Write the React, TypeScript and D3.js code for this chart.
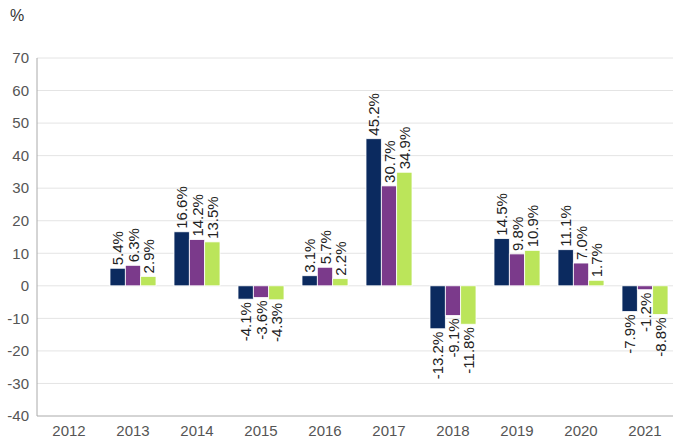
import React from "react";
import * as d3 from "d3";

const years = ["2012", "2013", "2014", "2015", "2016", "2017", "2018", "2019", "2020", "2021"];
const seriesA: (number | null)[] = [null, 5.4, 16.6, -4.1, 3.1, 45.2, -13.2, 14.5, 11.1, -7.9];
const seriesB: (number | null)[] = [null, 6.3, 14.2, -3.6, 5.7, 30.7, -9.1, 9.8, 7.0, -1.2];
const seriesC: (number | null)[] = [null, 2.9, 13.5, -4.3, 2.2, 34.9, -11.8, 10.9, 1.7, -8.8];
const yTicks = [70, 60, 50, 40, 30, 20, 10, 0, -10, -20, -30, -40];
const colors = ["#0b2a5f", "#7b3a8b", "#bbe55a"];

export default function App() {
  const W = 673, H = 439;
  const left = 37, right = 677, top = 58, bottom = 416;
  const y = d3.scaleLinear().domain([-40, 70]).range([bottom, top]);
  const x = d3.scaleBand().domain(years).range([left, right]);
  const inner = d3.scaleBand().domain(["a", "b", "c"]).range([0, 46]).padding(0);
  const series = [seriesA, seriesB, seriesC];
  const font = "Liberation Sans, Arial, sans-serif";
  const bw = x.bandwidth();
  return (
    <svg width={W} height={H} style={{ position: "absolute", left: 0, top: 0 }} fontFamily={font}>
      <text x={10} y={21} fontSize={16} fill="#333">%</text>
      {yTicks.map((t) => (
        <g key={t}>
          {t !== -40 && (
            <line x1={left} x2={W} y1={y(t)} y2={y(t)} stroke="#e4e4e4" strokeWidth={1} />
          )}
          <text x={29} y={y(t)} dy="0.35em" textAnchor="end" fontSize={15} fill="#555">
            {t}
          </text>
        </g>
      ))}
      <line x1={left} x2={left} y1={top} y2={bottom} stroke="#aaa" />
      <line x1={left} x2={W} y1={bottom} y2={bottom} stroke="#aaa" />
      {years.map((yr) => (
        <text key={yr} x={(x(yr) as number) + bw / 2} y={bottom + 20} textAnchor="middle" fontSize={15} fill="#555">
          {yr}
        </text>
      ))}
      {years.map((yr, i) => {
        const gx = (x(yr) as number) + bw / 2 - 23;
        return series.map((s, j) => {
          const v = s[i];
          if (v === null) return null;
          const bx = gx + (inner(["a", "b", "c"][j]) as number);
          const y0 = y(0), y1 = y(v);
          const w = inner.bandwidth();
          const lx = bx + w / 2;
          const ly = v >= 0 ? y1 - 3 : y1 + 3;
          return (
            <g key={yr + j}>
              <rect x={bx} y={Math.min(y0, y1)} width={w} height={Math.abs(y1 - y0)} fill={colors[j]} stroke="#fff" strokeWidth={0.8} />
              <text
                transform={`translate(${lx + 5.5},${ly}) rotate(-90)`}
                textAnchor={v >= 0 ? "start" : "end"}
                fontSize={15}
                fill="#222"
              >
                {v.toFixed(1) + "%"}
              </text>
            </g>
          );
        });
      })}
    </svg>
  );
}
